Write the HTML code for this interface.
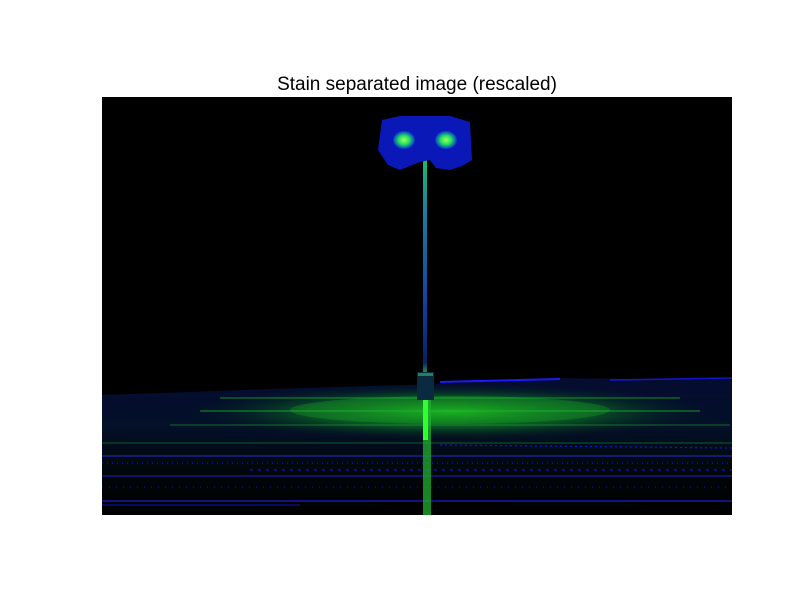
<!DOCTYPE html>
<html><head><meta charset="utf-8"><style>
html,body{margin:0;padding:0;background:#fff;width:812px;height:612px;overflow:hidden}
svg{display:block}
</style></head><body>
<svg width="812" height="612" viewBox="0 0 812 612">
<defs>
<radialGradient id="glow" cx="0.5" cy="0.5" r="0.5">
<stop offset="0" stop-color="#1fd21f" stop-opacity="0.8"/>
<stop offset="0.55" stop-color="#10a020" stop-opacity="0.45"/>
<stop offset="1" stop-color="#003010" stop-opacity="0"/>
</radialGradient>
<linearGradient id="ground" x1="0" y1="0" x2="0" y2="1">
<stop offset="0" stop-color="#040c30"/>
<stop offset="0.35" stop-color="#031028"/>
<stop offset="0.7" stop-color="#010608"/>
<stop offset="1" stop-color="#000"/>
</linearGradient>
<radialGradient id="lamp" cx="0.5" cy="0.5" r="0.5">
<stop offset="0" stop-color="#a0ff60"/>
<stop offset="0.5" stop-color="#20e060"/>
<stop offset="1" stop-color="#0a30d0"/>
</radialGradient>
<linearGradient id="pole" x1="0" y1="0" x2="0" y2="1">
<stop offset="0" stop-color="#20d060"/>
<stop offset="0.3" stop-color="#1880a0"/>
<stop offset="0.7" stop-color="#1040a0"/>
<stop offset="0.95" stop-color="#0a2060"/>
<stop offset="1" stop-color="#20a060"/>
</linearGradient>
</defs>
<text x="417" y="90" text-anchor="middle" font-family="Liberation Sans, sans-serif" font-size="19" fill="#000">Stain separated image (rescaled)</text>
<g>
<rect x="102" y="97" width="630" height="418" fill="#000"/>
<path d="M102 395 L300 388 L440 384 L560 378 L732 380 L732 515 L102 515 Z" fill="url(#ground)"/>
<ellipse cx="450" cy="412" rx="260" ry="28" fill="url(#glow)"/>
<ellipse cx="450" cy="410" rx="160" ry="14" fill="#20c020" opacity="0.25"/>
<g stroke-width="1.2" fill="none">
<line x1="220" y1="398" x2="680" y2="398" stroke="#20b030" opacity="0.6"/>
<line x1="200" y1="411" x2="700" y2="411" stroke="#20c030" opacity="0.6"/>
<line x1="170" y1="425" x2="730" y2="425" stroke="#20a030" opacity="0.5"/>
<line x1="102" y1="443" x2="732" y2="443" stroke="#109030" opacity="0.5"/>
<line x1="102" y1="456" x2="732" y2="456" stroke="#2030d0" opacity="0.8"/>
<line x1="102" y1="476" x2="732" y2="476" stroke="#2020d0" opacity="0.8"/>
<line x1="102" y1="501" x2="732" y2="501" stroke="#2020e0" opacity="0.9"/>
<line x1="102" y1="505" x2="300" y2="505" stroke="#1010c0" opacity="0.8"/>
<line x1="440" y1="382" x2="560" y2="379" stroke="#1a1aff" stroke-width="2"/>
<line x1="610" y1="380" x2="732" y2="378" stroke="#1a1aff" stroke-width="1.5" opacity="0.8"/>
<line x1="440" y1="445" x2="732" y2="448" stroke="#1a1aff" stroke-dasharray="2 3" opacity="0.8"/>
<line x1="102" y1="463" x2="732" y2="463" stroke="#1a1aff" stroke-dasharray="1 4" opacity="0.7"/>
<line x1="250" y1="470" x2="732" y2="470" stroke="#1a1aff" stroke-dasharray="3 5" opacity="0.7"/>
<line x1="102" y1="487" x2="732" y2="487" stroke="#1a1aff" stroke-dasharray="1 6" opacity="0.6"/>
</g>
<rect x="423" y="400" width="8" height="115" fill="#20b030" opacity="0.75"/>
<rect x="423" y="400" width="5" height="40" fill="#30ff30"/>
<rect x="423" y="140" width="4" height="234" fill="url(#pole)"/>
<rect x="417" y="372" width="17" height="28" fill="#0a2a40"/>
<rect x="418" y="373" width="15" height="3" fill="#208060"/>
<path d="M382 120 L400 116 L450 116 L470 122 L472 160 L462 166 L450 170 L436 168 L430 160 L420 162 L400 170 L388 165 L378 150 Z" fill="#0a18b8"/>
<ellipse cx="404" cy="140" rx="11" ry="9" fill="url(#lamp)"/>
<ellipse cx="446" cy="140" rx="11" ry="9" fill="url(#lamp)"/>
</g>
</svg>
</body></html>
